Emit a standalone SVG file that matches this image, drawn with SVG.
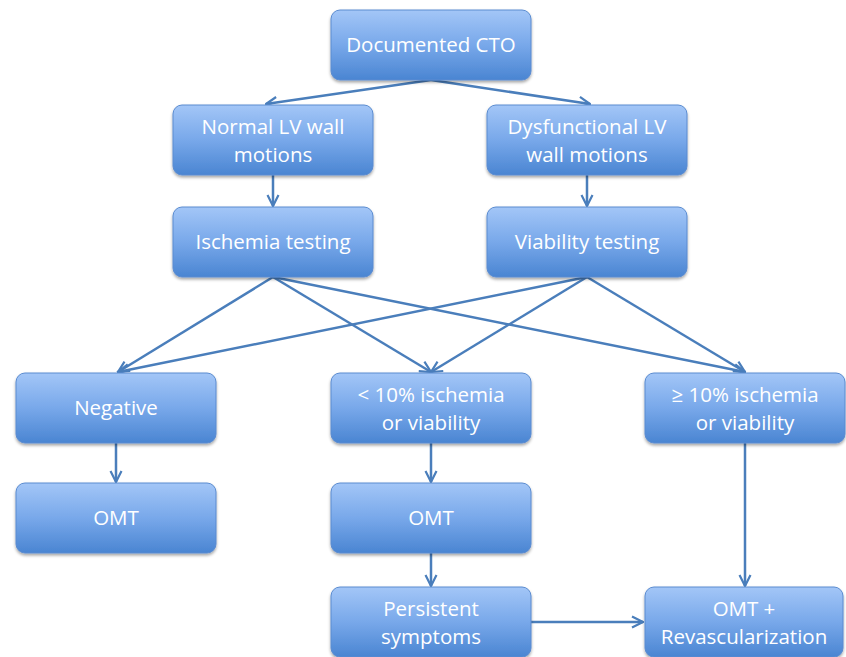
<svg xmlns="http://www.w3.org/2000/svg" width="846" height="657" viewBox="0 0 846 657">
<style>
.box{fill:url(#g);stroke:#5a8bd0;stroke-width:1;filter:url(#sh)}
.t{fill:#ffffff;font-family:"Open Sans","Liberation Sans",sans-serif;font-size:20.5px;text-anchor:middle}
.c{fill:none;stroke:#4a7ebb;stroke-width:2.5;marker-end:url(#a)}
</style>
<defs>
<linearGradient id="g" x1="0" y1="0" x2="0" y2="1">
<stop offset="0" stop-color="#a3c6f7"/>
<stop offset="0.5" stop-color="#78a8ea"/>
<stop offset="1" stop-color="#4a85d2"/>
</linearGradient>
<filter id="sh" x="-10%" y="-10%" width="120%" height="130%">
<feDropShadow dx="0" dy="2" stdDeviation="1.5" flood-color="#000" flood-opacity="0.35"/>
</filter>
<marker id="a" viewBox="0 0 10 10" refX="9" refY="5" markerWidth="5.5" markerHeight="5.5" orient="auto" markerUnits="strokeWidth">
<path d="M1,1 L9,5 L1,9" fill="none" stroke="#4a7ebb" stroke-width="1.6"/>
</marker>
</defs>
<g id="connectors">
<line class="c" x1="431" y1="80" x2="266" y2="104"/>
<line class="c" x1="431" y1="80" x2="590" y2="104"/>
<line class="c" x1="273" y1="175" x2="273" y2="206"/>
<line class="c" x1="587" y1="175" x2="587" y2="206"/>
<line class="c" x1="273" y1="277" x2="118" y2="372"/>
<line class="c" x1="273" y1="277" x2="431" y2="372"/>
<line class="c" x1="273" y1="277" x2="745" y2="372"/>
<line class="c" x1="587" y1="277" x2="118" y2="372"/>
<line class="c" x1="587" y1="277" x2="431" y2="372"/>
<line class="c" x1="587" y1="277" x2="745" y2="372"/>
<line class="c" x1="116" y1="443" x2="116" y2="482"/>
<line class="c" x1="431" y1="443" x2="431" y2="482"/>
<line class="c" x1="431" y1="553" x2="431" y2="586"/>
<line class="c" x1="745" y1="443" x2="745" y2="586"/>
<line class="c" x1="531" y1="622" x2="643" y2="622"/>
</g>
<g id="n1"><rect class="box" x="331" y="10" width="200" height="70" rx="9"/><text class="t" x="431" y="52">Documented CTO</text></g>
<g id="n2"><rect class="box" x="173" y="105" width="200" height="70" rx="9"/><text class="t" x="273" y="134">Normal LV wall</text><text class="t" x="273" y="162">motions</text></g>
<g id="n3"><rect class="box" x="487" y="105" width="200" height="70" rx="9"/><text class="t" x="587" y="134">Dysfunctional LV</text><text class="t" x="587" y="162">wall motions</text></g>
<g id="n4"><rect class="box" x="173" y="207" width="200" height="70" rx="9"/><text class="t" x="273" y="249">Ischemia testing</text></g>
<g id="n5"><rect class="box" x="487" y="207" width="200" height="70" rx="9"/><text class="t" x="587" y="249">Viability testing</text></g>
<g id="n6"><rect class="box" x="16" y="373" width="200" height="70" rx="9"/><text class="t" x="116" y="415">Negative</text></g>
<g id="n7"><rect class="box" x="331" y="373" width="200" height="70" rx="9"/><text class="t" x="431" y="402">&lt; 10% ischemia</text><text class="t" x="431" y="430">or viability</text></g>
<g id="n8"><rect class="box" x="645" y="373" width="200" height="70" rx="9"/><text class="t" x="745" y="402">≥ 10% ischemia</text><text class="t" x="745" y="430">or viability</text></g>
<g id="n9"><rect class="box" x="16" y="483" width="200" height="70" rx="9"/><text class="t" x="116" y="525">OMT</text></g>
<g id="n10"><rect class="box" x="331" y="483" width="200" height="70" rx="9"/><text class="t" x="431" y="525">OMT</text></g>
<g id="n11"><rect class="box" x="331" y="587" width="200" height="70" rx="9"/><text class="t" x="431" y="616">Persistent</text><text class="t" x="431" y="644">symptoms</text></g>
<g id="n12"><rect class="box" x="645" y="587" width="198" height="70" rx="9"/><text class="t" x="744" y="616">OMT +</text><text class="t" x="744" y="644">Revascularization</text></g>
</svg>
